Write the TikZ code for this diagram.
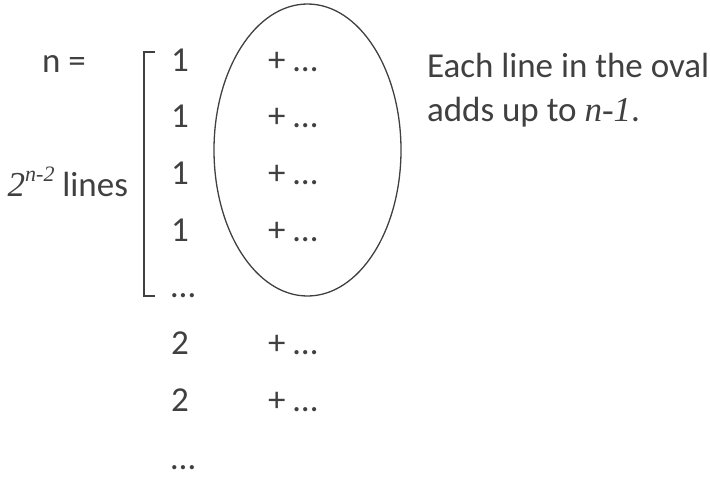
\documentclass[tikz,border=0pt]{standalone}
\usepackage{fontspec}
\usetikzlibrary{shapes.geometric}
\setmainfont{Carlito}
\newfontfamily\tms{Liberation Serif}
\definecolor{ink}{HTML}{404040}
\begin{document}
\begin{tikzpicture}[x=1pt,y=-1pt,
  txt/.style={inner sep=0pt,outer sep=0pt,text=ink,font=\fontsize{35}{42}\selectfont},
  linestyle/.style={draw=ink,line width=1.3pt}]
\useasboundingbox (0,0) rectangle (710,477);
\node[txt,anchor=base west] (neq) at (42,72) {n =};
\node[txt,anchor=base west] (r1) at (171,71.5) {1};
\node[txt,anchor=base west] (r2) at (171,127.5) {1};
\node[txt,anchor=base west] (r3) at (171,184.5) {1};
\node[txt,anchor=base west] (r4) at (171,241) {1};
\node[txt,anchor=base west] (d1) at (171,297) {…};
\node[txt,anchor=base west] (r5) at (171,354.5) {2};
\node[txt,anchor=base west] (r6) at (171,411.5) {2};
\node[txt,anchor=base west] (d2) at (171,469) {…};
\node[txt,anchor=base west] (p1) at (268,71.5) {+ …};
\node[txt,anchor=base west] (p2) at (268,127.5) {+ …};
\node[txt,anchor=base west] (p3) at (268,184.5) {+ …};
\node[txt,anchor=base west] (p4) at (268,241) {+ …};
\node[txt,anchor=base west] (p5) at (268,354.5) {+ …};
\node[txt,anchor=base west] (p6) at (268,411.5) {+ …};
\node[txt,anchor=base east] (lbl) at (128,196) {{\tms\itshape 2\raisebox{0.42em}{\fontsize{22}{26}\selectfont n-2}} lines};
\node[txt,anchor=base west] (e1) at (427,77) {Each line in the oval};
\node[txt,anchor=base west] (e2) at (427,121) {adds up to {\tms\itshape n-1}.};
\coordinate (bt) at (155,52);
\coordinate (bb) at (155,296);
\draw[linestyle] (bt) -- (144,52) -- (144,296) -- (bb);
\node[linestyle,ellipse,minimum width=187pt,minimum height=292pt,inner sep=0pt] (oval) at (307.5,150) {};
\end{tikzpicture}
\end{document}
